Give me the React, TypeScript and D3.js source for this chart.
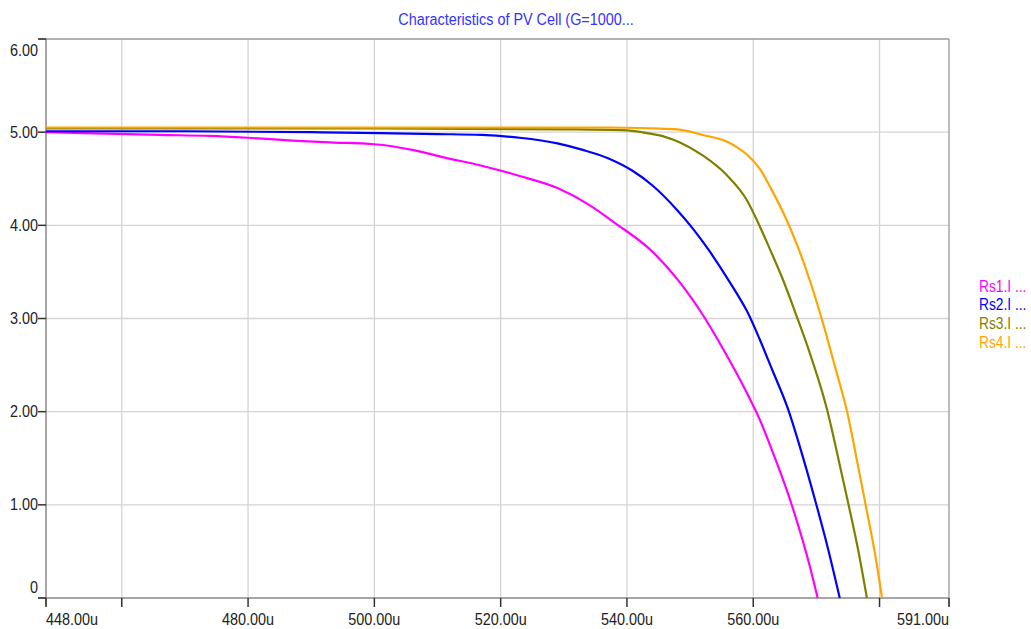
import React from "react";
import * as d3 from "d3";

const title = "Characteristics of PV Cell (G=1000...";

const seriesNames = ["Rs1.I ...", "Rs2.I ...", "Rs3.I ...", "Rs4.I ..."];
const seriesColors = ["#ff00ff", "#0000ff", "#808000", "#ffa500"];

// voltage in micro-units (u), current
const rs1: [number, number][] = [
  [448, 5.0], [454, 4.99], [466, 4.97], [474, 4.96], [480, 4.94], [487, 4.91],
  [493, 4.89], [500, 4.87], [506, 4.81], [511, 4.73], [517, 4.64], [523, 4.53],
  [529, 4.4], [534, 4.22], [538, 4.03], [544, 3.72], [548, 3.42], [550, 3.24],
  [552, 3.04], [555, 2.7], [559, 2.2], [561, 1.92], [563, 1.58], [566, 1.02],
  [569, 0.33], [570.2, 0],
];
const rs2: [number, number][] = [
  [448, 5.01], [470, 5.01], [490, 5.0], [501, 4.99], [510, 4.98], [517, 4.97],
  [523, 4.94], [529, 4.88], [533, 4.81], [537, 4.72], [541, 4.58], [544, 4.43],
  [548, 4.16], [550.5, 3.96], [553, 3.73], [556, 3.42], [558, 3.2], [559, 3.08],
  [561, 2.78], [563, 2.45], [565.5, 2.03], [567.4, 1.62], [569.8, 1.05],
  [571.8, 0.54], [573.7, 0],
];
const rs3: [number, number][] = [
  [448, 5.04], [500, 5.04], [530, 5.03], [540, 5.02], [543.2, 4.99],
  [546, 4.95], [548.4, 4.89], [552, 4.75], [555.8, 4.54], [559, 4.27],
  [561.1, 3.98], [562.6, 3.75], [564.8, 3.4], [566.9, 3.02], [569, 2.62],
  [571.7, 2.02], [573.4, 1.52], [575, 1.03], [576.6, 0.52], [578, 0],
];
const rs4: [number, number][] = [
  [448, 5.05], [537, 5.05], [544, 5.04], [548, 5.03], [552, 4.97],
  [555.8, 4.9], [557.4, 4.84], [559, 4.76], [561.1, 4.6], [563, 4.37],
  [565, 4.1], [567, 3.78], [569, 3.4], [571, 2.96], [573, 2.47],
  [575, 1.96], [576.5, 1.45], [578, 0.93], [579.3, 0.47], [580.4, 0],
];
const seriesData = [rs1, rs2, rs3, rs4];

const xDomain = [448, 591];
const yDomain = [0, 6];
const xGridTicks = [460, 480, 500, 520, 540, 560, 580];
const xLabelTicks = [448, 480, 500, 520, 540, 560, 591];
const yTicks = [0, 1, 2, 3, 4, 5, 6];

const fmtX = (v: number) => `${v.toFixed(2)}u`;
const fmtY = (v: number) => (v === 0 ? "0" : v.toFixed(2));

const FONT = "'Liberation Sans', Arial, sans-serif";
const SX = 0.9;
const SY = 1.08;

export default function App() {
  const W = 1031;
  const H = 629;
  const left = 46, right = 949, top = 39, bottom = 598;
  const x = d3.scaleLinear().domain(xDomain).range([left, right]);
  const y = d3.scaleLinear().domain(yDomain).range([bottom, top]);
  const line = d3
    .line<[number, number]>()
    .x((d) => x(d[0]))
    .y((d) => y(d[1]))
    .curve(d3.curveMonotoneX);

  return (
    <svg
      width={W}
      height={H}
      style={{ position: "absolute", left: 0, top: 0, background: "#fff" }}
      fontFamily={FONT}
    >
      <rect x={0} y={0} width={W} height={H} fill="#fff" />
      {/* grid */}
      {xGridTicks.map((t) => (
        <line key={"gx" + t} x1={x(t)} x2={x(t)} y1={top} y2={bottom} stroke="#d4d4d4" strokeWidth={1.3} />
      ))}
      {yTicks.filter((t) => t > 0 && t < 6).map((t) => (
        <line key={"gy" + t} x1={left} x2={right} y1={y(t)} y2={y(t)} stroke="#d4d4d4" strokeWidth={1.3} />
      ))}
      {/* frame */}
      <line x1={left - 8} x2={right} y1={top} y2={top} stroke="#999" strokeWidth={1.3} />
      <line x1={right} x2={right} y1={top} y2={bottom + 8} stroke="#999" strokeWidth={1.3} />
      <line x1={left} x2={left} y1={top} y2={bottom + 8} stroke="#777" strokeWidth={1.3} />
      <line x1={left - 8} x2={right} y1={bottom} y2={bottom} stroke="#888" strokeWidth={1.3} />
      {/* y ticks */}
      {yTicks.map((t) => (
        <g key={"yt" + t}>
          <line x1={left - 8} x2={left} y1={y(t)} y2={y(t)} stroke="#333" strokeWidth={1.5} />
          <text
            transform={`translate(${left - 8},${t === 6 ? y(t) + 17 : t === 0 ? y(t) - 5 : y(t) + 5.5}) scale(${SX},${SY})`}
            textAnchor="end"
            fontSize={16}
            fill="#222"
          >
            {fmtY(t)}
          </text>
        </g>
      ))}
      {/* x ticks */}
      {[...new Set([...xGridTicks, ...xLabelTicks])].map((t) => (
        <line key={"xt" + t} x1={x(t)} x2={x(t)} y1={bottom} y2={bottom + 9} stroke="#333" strokeWidth={1.5} />
      ))}
      {xLabelTicks.map((t, i) => (
        <text
          key={"xl" + t}
          transform={`translate(${x(t)},${bottom + 26.5}) scale(${SX},${SY})`}
          textAnchor={i === 0 ? "start" : i === xLabelTicks.length - 1 ? "end" : "middle"}
          fontSize={16}
          fill="#222"
        >
          {fmtX(t)}
        </text>
      ))}
      {/* series */}
      {seriesData.map((d, i) => (
        <path
          key={"s" + i}
          d={line(d) || ""}
          fill="none"
          stroke={seriesColors[i]}
          strokeWidth={2.2}
          strokeLinejoin="round"
        />
      ))}
      {/* title */}
      <text
        transform={`translate(516,24.5) scale(${SX},${SY})`}
        textAnchor="middle"
        fontSize={16}
        fill="#3333ff"
      >
        {title}
      </text>
      {/* legend */}
      {seriesNames.map((n, i) => (
        <text
          key={"lg" + i}
          transform={`translate(979,${291.5 + i * 18.7}) scale(0.86,${SY})`}
          fontSize={16}
          fill={seriesColors[i]}
        >
          {n}
        </text>
      ))}
    </svg>
  );
}
